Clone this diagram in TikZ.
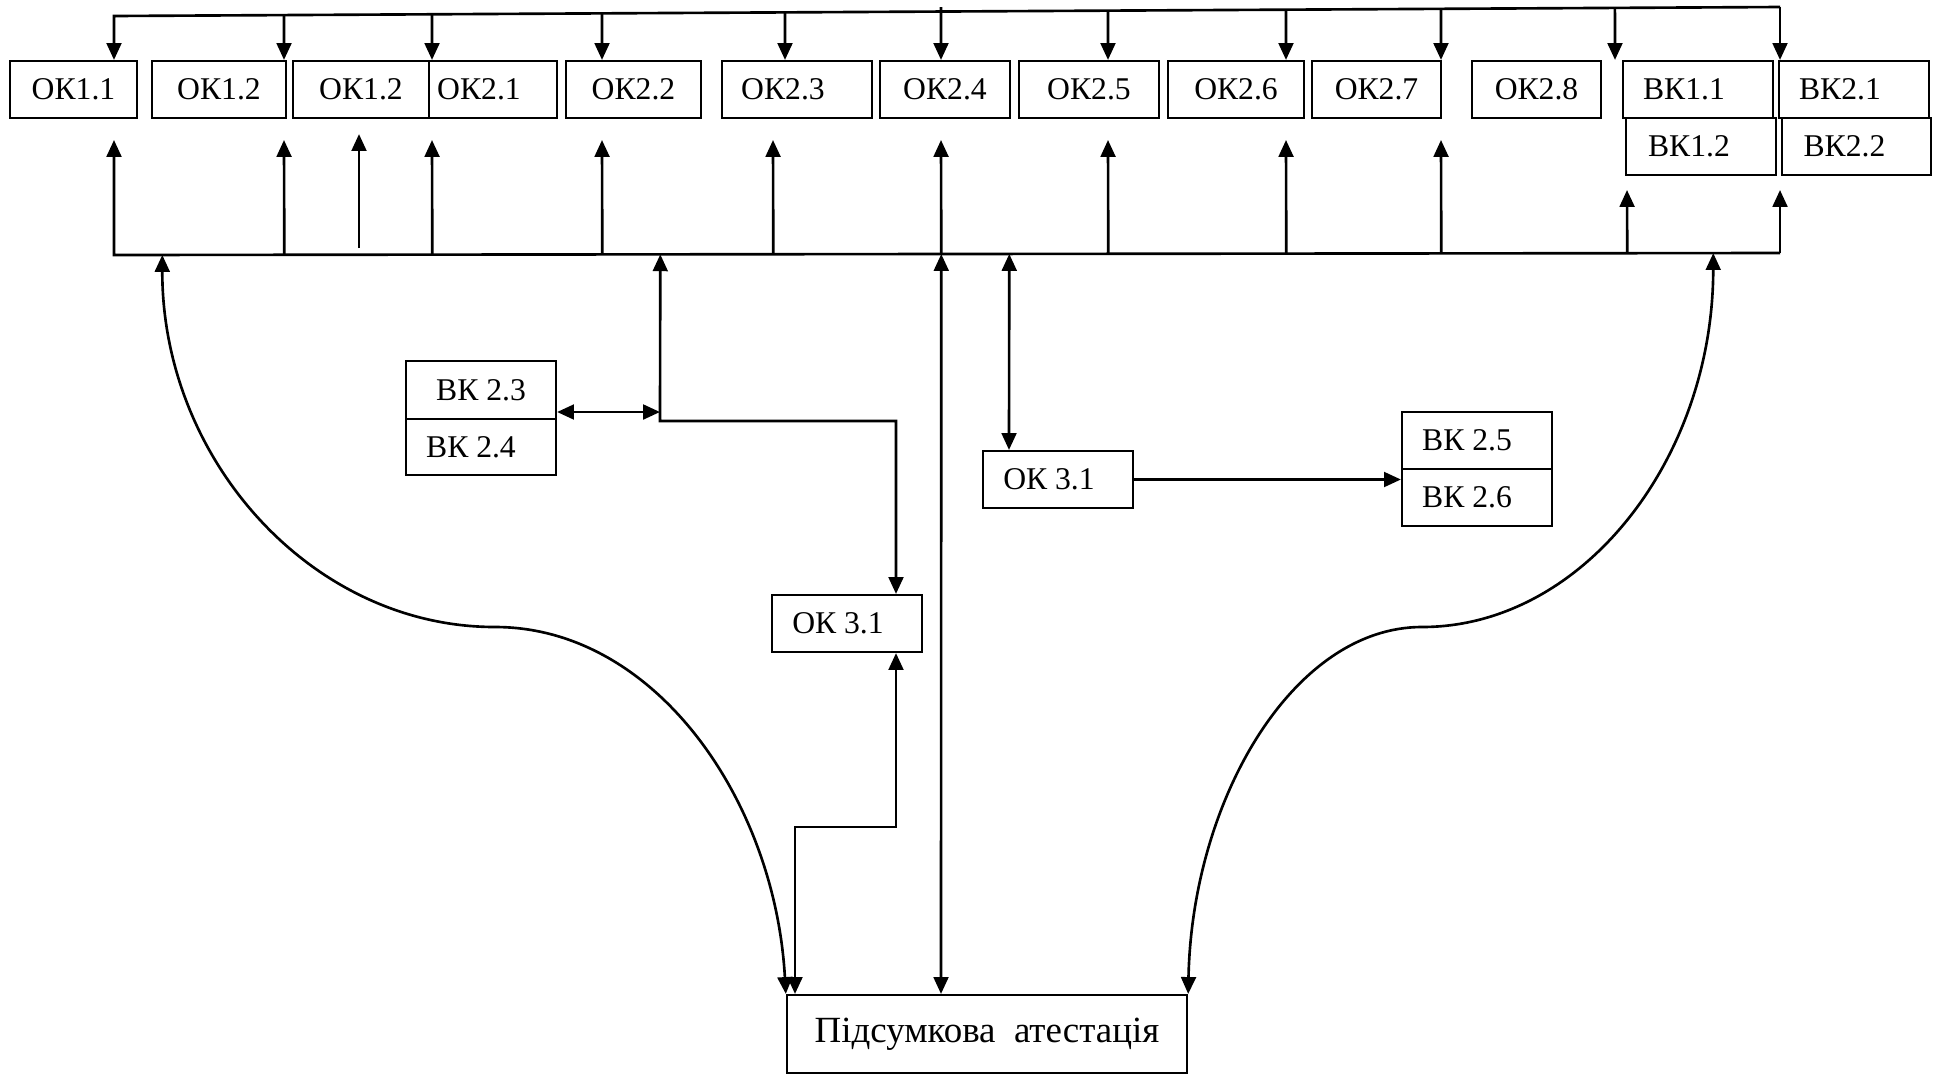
\documentclass[tikz,border=0pt]{standalone}
\usepackage{fontspec}
\setmainfont{Liberation Serif}
\usetikzlibrary{arrows.meta,calc}

\tikzset{
  box/.style={draw, line width=0.6pt, inner sep=0pt, minimum width=#1, minimum height=0.57cm, font=\fontsize{9}{11}\selectfont},
  lshift/.style={execute at begin node={\hspace*{-#1}}},
  arr/.style={-{Triangle[length=4.8pt,width=4.2pt]}, line width=0.75pt},
  darr/.style={{Triangle[length=4.8pt,width=4.2pt]}-{Triangle[length=4.8pt,width=4.2pt]}, line width=0.75pt},
}

\begin{document}
\begin{tikzpicture}[x=0.01cm, y=-0.01cm]
\useasboundingbox (0,0) rectangle (1939,1075);

% top row
\node [box=1.27cm] (ok11) at (73.5,89.5) {ОК1.1};
\node [box=1.34cm] (ok12) at (219,89.5) {ОК1.2};
\node [box=1.36cm] (ok12b) at (361,89.5) {ОК1.2};
\node [box=1.28cm, lshift=0.28cm] (ok21) at (493,89.5) {ОК2.1};
\node [box=1.35cm] (ok22) at (633.5,89.5) {ОК2.2};
\node [box=1.50cm, lshift=0.28cm] (ok23) at (797,89.5) {ОК2.3};
\node [box=1.30cm] (ok24) at (945,89.5) {ОК2.4};
\node [box=1.40cm] (ok25) at (1089,89.5) {ОК2.5};
\node [box=1.36cm] (ok26) at (1236,89.5) {ОК2.6};
\node [box=1.29cm] (ok27) at (1376.5,89.5) {ОК2.7};
\node [box=1.29cm] (ok28) at (1536.5,89.5) {ОК2.8};
\node [box=1.50cm, lshift=0.28cm] (vk11) at (1698,89.5) {ВК1.1};
\node [box=1.50cm, lshift=0.24cm] (vk12) at (1701,146.5) {ВК1.2};
\node [box=1.50cm, lshift=0.28cm] (vk21) at (1854,89.5) {ВК2.1};
\node [box=1.49cm, lshift=0.24cm] (vk22) at (1856.5,146.5) {ВК2.2};

% middle
\node [box=1.50cm, minimum height=0.58cm] (vk23) at (481,390) {ВК 2.3};
\node [box=1.50cm, minimum height=0.56cm, lshift=0.2cm] (vk24) at (481,447) {ВК 2.4};
\node [box=1.50cm, lshift=0.18cm] (ok31a) at (847,623.5) {ОК 3.1};
\node [box=1.50cm, lshift=0.18cm] (ok31b) at (1058,479.5) {ОК 3.1};
\node [box=1.50cm, lshift=0.2cm] (vk25) at (1477,440.5) {ВК 2.5};
\node [box=1.50cm, lshift=0.2cm] (vk26) at (1477,497.5) {ВК 2.6};

% bottom
\node [box=4.00cm, minimum height=0.78cm, font=\fontsize{10.5}{12}\selectfont] (final) at (987,1034) {Підсумкова~~атестація};

% top line and bus
\coordinate (tl) at (114,16);
\coordinate (tr) at (1780,7);
\coordinate (bl) at (114,255);
\coordinate (br) at (1780,253);
\coordinate (tip) at (0,140);
\coordinate (tipv) at (0,190);

\coordinate (k1) at (114,0);
\coordinate (k2) at (284,0);
\coordinate (k3) at (359,0);
\coordinate (k4) at (432,0);
\coordinate (k5) at (602,0);
\coordinate (k6) at (785,0);
\coordinate (k6u) at (773,0);
\coordinate (k7) at (941,0);
\coordinate (k8) at (1108,0);
\coordinate (k9) at (1286,0);
\coordinate (k10) at (1441,0);
\coordinate (k11) at (1615,0);
\coordinate (k12) at (1627,0);
\coordinate (k13) at (1780,0);
\coordinate (kl) at (162,0);
\coordinate (kr) at (1713,0);
\coordinate (kj) at (660,0);
\coordinate (ko) at (1009,0);

% arrows down
\draw [arr] (tr) -- (tl) -- (k1 |- ok11.north);
\draw [arr] ($(tl)!(k2)!(tr)$) -- (k2 |- ok12.north);
\draw [arr] ($(tl)!(k4)!(tr)$) -- (k4 |- ok21.north);
\draw [arr] ($(tl)!(k5)!(tr)$) -- (k5 |- ok22.north);
\draw [arr] ($(tl)!(k6)!(tr)$) -- (k6 |- ok23.north);
\draw [arr] ([yshift=0.045cm]$(tl)!(k7)!(tr)$) -- (k7 |- ok24.north);
\draw [arr] ($(tl)!(k8)!(tr)$) -- (k8 |- ok25.north);
\draw [arr] ($(tl)!(k9)!(tr)$) -- (k9 |- ok26.north);
\draw [arr] ($(tl)!(k10)!(tr)$) -- (k10 |- ok27.north);
\draw [arr] ($(tl)!(k11)!(tr)$) -- (k11 |- ok28.north);
\draw [arr] (tr) -- (k13 |- vk21.north);

% arrows up
\draw [arr] (br) -- (bl) -- (k1 |- tip);
\draw [arr] ($(bl)!(k2)!(br)$) -- (k2 |- tip);
\draw [arr] ([yshift=0.07cm]k3 |- bl) -- ([yshift=-0.15cm]k3 |- ok12b.south);
\draw [arr] ($(bl)!(k4)!(br)$) -- (k4 |- tip);
\draw [arr] ($(bl)!(k5)!(br)$) -- (k5 |- tip);
\draw [arr] ($(bl)!(k6u)!(br)$) -- (k6u |- tip);
\draw [arr] ($(bl)!(k7)!(br)$) -- (k7 |- tip);
\draw [arr] ($(bl)!(k8)!(br)$) -- (k8 |- tip);
\draw [arr] ($(bl)!(k9)!(br)$) -- (k9 |- tip);
\draw [arr] ($(bl)!(k10)!(br)$) -- (k10 |- tip);
\draw [arr] ($(bl)!(k12)!(br)$) -- (k12 |- tipv);
\draw [arr] (br) -- (k13 |- tipv);

% curves
\draw [darr] ($(bl)!(kl)!(br)$) .. controls (162,460) and (312,627) .. (495,627)
  .. controls (655,627) and (775,800) .. (final.north west);
\draw [darr] ($(bl)!(kr)!(br)$) .. controls (1713,460) and (1582,627) .. (1422,627)
  .. controls (1293,627) and (1192,800) .. (final.north east);

% middle links
\coordinate (j1) at (660,412);
\coordinate (j2) at (660,421);
\coordinate (c14) at (896,421);
\coordinate (c15) at (795,827);
\draw [darr] (j1 -| vk23.east) -- (j1);
\draw [darr] ($(bl)!(kj)!(br)$) -- (j2) -- (c14) -- (c14 |- ok31a.north);
\draw [darr] (c15 |- final.north) -- (c15) -| (c14 |- ok31a.south);
\draw [darr] (k7 |- final.north) -- ($(bl)!(k7)!(br)$);
\draw [darr] ($(bl)!(ko)!(br)$) -- (ko |- ok31b.north);
\draw [arr] (ok31b.east) -- (ok31b.east -| vk25.west);
\end{tikzpicture}
\end{document}
